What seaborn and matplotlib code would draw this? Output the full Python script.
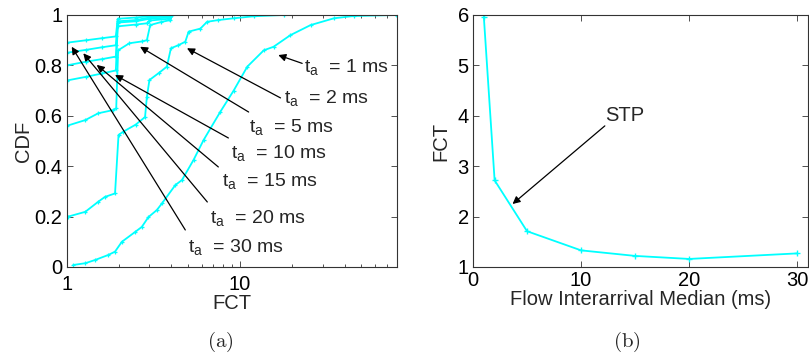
import numpy as np
import pandas as pd
import seaborn as sns
import matplotlib
matplotlib.use("Agg")
import matplotlib.pyplot as plt
from matplotlib.ticker import NullFormatter, FixedLocator, LogLocator

# CDF curves of flow completion time, one per interarrival median t_a
ta_labels = ["1", "2", "5", "10", "15", "20", "30"]

fct_1 = [1.09, 1.28, 1.46, 1.74, 1.90, 2.08, 2.48, 2.71, 2.96, 3.31, 3.54, 4.23, 4.62,
         5.39, 6.16, 7.69, 9.18, 11.0, 13.7, 15.6, 19.5, 25.5, 34.8, 45.2, 80]
cdf_1 = [0.008, 0.015, 0.028, 0.048, 0.061, 0.10, 0.139, 0.159, 0.198, 0.226, 0.252, 0.325, 0.345,
         0.425, 0.504, 0.616, 0.70, 0.795, 0.86, 0.874, 0.92, 0.96, 0.987, 0.996, 1.0]

fct_2 = [1.02, 1.28, 1.52, 1.66, 1.90, 1.99, 2.12, 2.5, 2.83, 2.90, 3.0, 3.4, 3.78, 3.99,
         4.4, 4.83, 5.05, 5.9, 6.45, 7.5, 9.2, 12, 17.8, 80]
cdf_2 = [0.20, 0.219, 0.259, 0.278, 0.292, 0.524, 0.537, 0.565, 0.595, 0.675, 0.742, 0.77, 0.795, 0.868,
         0.88, 0.894, 0.934, 0.946, 0.973, 0.98, 0.987, 0.995, 1.0, 1.0]

fct_5 = [1.0, 1.28, 1.52, 1.86, 1.93, 1.98, 2.3, 2.71, 2.9, 3.03, 3.5, 3.96, 4.05, 80]
cdf_5 = [0.56, 0.583, 0.61, 0.623, 0.63, 0.86, 0.888, 0.895, 0.90, 0.96, 0.972, 0.98, 1.0, 1.0]

fct_10 = [1.0, 1.3, 1.6, 1.92, 1.97, 2.5, 2.9, 3.0, 3.9, 4.0, 80]
cdf_10 = [0.74, 0.755, 0.768, 0.78, 0.955, 0.962, 0.967, 0.978, 0.985, 1.0, 1.0]

fct_15 = [1.0, 1.3, 1.6, 1.92, 1.97, 2.5, 3.0, 3.9, 4.0, 80]
cdf_15 = [0.80, 0.815, 0.825, 0.835, 0.97, 0.975, 0.985, 0.99, 1.0, 1.0]

fct_20 = [1.0, 1.3, 1.6, 1.92, 1.97, 2.5, 3.0, 3.9, 4.0, 80]
cdf_20 = [0.85, 0.862, 0.872, 0.88, 0.975, 0.98, 0.99, 0.995, 1.0, 1.0]

fct_30 = [1.0, 1.3, 1.6, 1.92, 1.97, 2.5, 3.0, 3.9, 4.0, 80]
cdf_30 = [0.89, 0.90, 0.908, 0.915, 0.985, 0.99, 0.995, 0.998, 1.0, 1.0]

# arrow tip / tail and label position (data coords) for each t_a
tip_x = [16.6, 4.94, 2.65, 1.90, 1.49, 1.247, 1.069]
tip_y = [0.841, 0.868, 0.874, 0.762, 0.802, 0.848, 0.874]
tail_x = [22.8, 17.1, 11.2, 8.56, 7.49, 6.47, 4.83]
tail_y = [0.808, 0.671, 0.615, 0.512, 0.397, 0.258, 0.147]
lab_x = [23.4, 17.9, 11.3, 8.85, 7.85, 6.7, 5.0]
lab_y = [0.774, 0.65, 0.537, 0.432, 0.323, 0.174, 0.061]

# right panel: median FCT vs interarrival median
interarrival = [1, 2, 5, 10, 15, 20, 30]
median_fct = [5.97, 2.72, 1.71, 1.33, 1.22, 1.16, 1.27]

sns.set_style("ticks")
plt.rcParams["font.family"] = ["Liberation Sans", "DejaVu Sans"]
plt.rcParams["mathtext.default"] = "regular"
plt.rcParams["mathtext.fontset"] = "custom"
plt.rcParams["mathtext.rm"] = "Liberation Sans"
plt.rcParams["mathtext.it"] = "Liberation Sans"
plt.rcParams["xtick.direction"] = "in"
plt.rcParams["ytick.direction"] = "in"

fig = plt.figure(figsize=(8.09, 3.63), dpi=100)
ax1 = fig.add_axes([66.7 / 809, 96 / 363, 330 / 809, 252 / 363])
ax2 = fig.add_axes([473 / 809, 96 / 363, 335 / 809, 252 / 363])

fs = 14.5
fs_note = 14
cyan = "#00ffff"

curves = [(fct_1, cdf_1), (fct_2, cdf_2), (fct_5, cdf_5), (fct_10, cdf_10),
          (fct_15, cdf_15), (fct_20, cdf_20), (fct_30, cdf_30)]
for xs, ys in curves:
    sns.lineplot(x=xs, y=ys, ax=ax1, color=cyan, lw=1.3, marker="+", markersize=3.5,
                 markeredgewidth=0.9, markeredgecolor=cyan, estimator=None, sort=False)

ax1.set_xscale("log")
ax1.set_xlim(1, 80)
ax1.set_ylim(0, 1)
ax1.xaxis.set_major_locator(FixedLocator([1, 10]))
ax1.set_xticklabels(["1", "10"])
ax1.xaxis.set_minor_locator(LogLocator(base=10, subs=np.arange(2, 10)))
ax1.xaxis.set_minor_formatter(NullFormatter())
ax1.set_yticks([0, 0.2, 0.4, 0.6, 0.8, 1])
ax1.set_yticklabels(["0", "0.2", "0.4", "0.6", "0.8", "1"])
ax1.set_xlabel("FCT", fontsize=fs, labelpad=0)
ax1.set_ylabel("CDF", fontsize=fs, labelpad=1)

for i, lab in enumerate(ta_labels):
    ax1.annotate("", xy=(tip_x[i], tip_y[i]), xytext=(tail_x[i], tail_y[i]),
                 arrowprops=dict(arrowstyle="-|>", color="black", lw=0.9,
                                 mutation_scale=11, shrinkA=0, shrinkB=0))
    ax1.text(lab_x[i], lab_y[i], r"$t_a$  = " + lab + " ms", fontsize=fs_note,
             ha="left", va="baseline")

sns.lineplot(x=interarrival, y=median_fct, ax=ax2, color=cyan, lw=1.3, marker="+",
             markersize=5, markeredgewidth=1.0, markeredgecolor=cyan,
             estimator=None, sort=False)
ax2.set_xlim(0, 31)
ax2.set_ylim(1, 6)
ax2.set_xticks([0, 10, 20, 30])
ax2.set_yticks([1, 2, 3, 4, 5, 6])
ax2.set_xlabel("Flow Interarrival Median (ms)", fontsize=fs, labelpad=0)
ax2.set_ylabel("FCT", fontsize=fs, labelpad=5)
ax2.annotate("", xy=(3.66, 2.25), xytext=(12.2, 3.80),
             arrowprops=dict(arrowstyle="-|>", color="black", lw=0.9,
                             mutation_scale=11, shrinkA=0, shrinkB=0))
ax2.text(12.2, 3.90, "STP", fontsize=fs, ha="left", va="baseline")

for ax in (ax1, ax2):
    ax.tick_params(which="both", top=True, right=True, labelsize=fs, pad=3,
                   colors="#333333", labelcolor="black")
    ax.tick_params(which="major", length=4, width=0.6)
    ax.tick_params(which="minor", length=2.5, width=0.6)
    for sp in ax.spines.values():
        sp.set_visible(True)
        sp.set_linewidth(0.8)
        sp.set_color("#333333")
ax1.tick_params(axis="x", which="both", pad=6)

fig.text(220 / 809, 1 - 342 / 363, r"$\mathrm{(a)}$", fontsize=15, ha="center",
         va="center", math_fontfamily="cm")
fig.text(627 / 809, 1 - 342 / 363, r"$\mathrm{(b)}$", fontsize=15, ha="center",
         va="center", math_fontfamily="cm")

fig.savefig("out.png", dpi=100)
